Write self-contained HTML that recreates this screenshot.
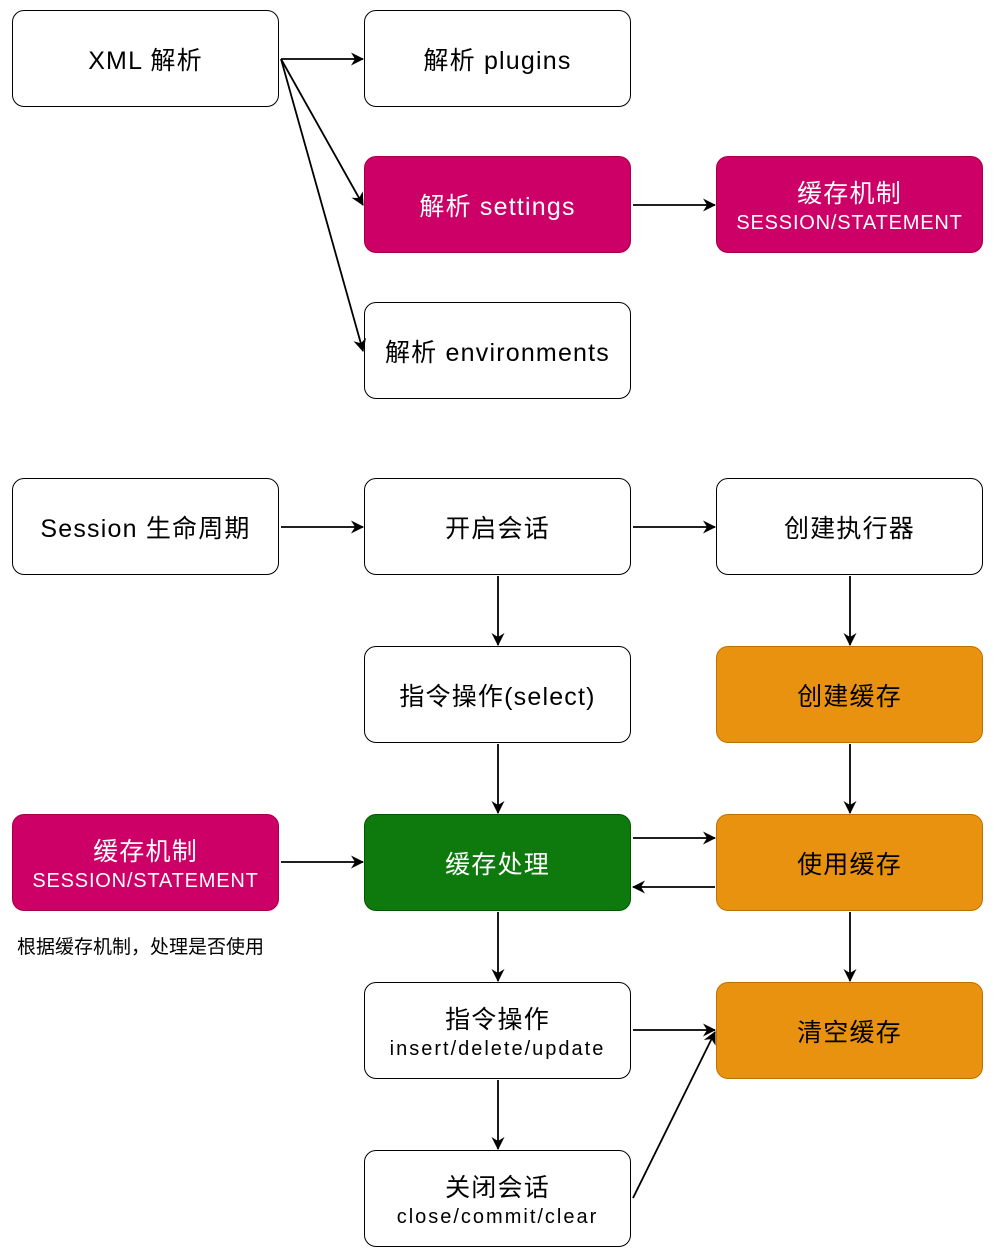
<!DOCTYPE html>
<html><head><meta charset="utf-8"><style>
body{margin:0;width:994px;height:1256px;background:#fff;position:relative;overflow:hidden;font-family:"Liberation Sans","Noto Sans CJK SC",sans-serif;}
.b{position:absolute;width:265px;border:1.8px solid #000;border-radius:12px;background:#fff;display:flex;flex-direction:column;align-items:center;justify-content:center;font-size:25px;color:#000;text-align:center;line-height:1.25;box-sizing:content-box;padding-top:6px;height:89px;letter-spacing:1.2px;font-weight:normal}
.b small{font-size:20px;letter-spacing:2px}
.b small.s{letter-spacing:0.8px}
.m{background:#cc0066;border-color:#a50040;color:#fff}
.g{background:#0e7a0d;border-color:#005700;color:#fff}
.o{background:#e8920f;border-color:#bd7000;color:#000}
svg{position:absolute;left:0;top:0}
</style></head><body>
<div class="b" style="left:12px;top:10px">XML 解析</div>
<div class="b" style="left:364px;top:10px">解析 plugins</div>
<div class="b m" style="left:364px;top:156px">解析 settings</div>
<div class="b m" style="left:716px;top:156px">缓存机制<small class="s">SESSION/STATEMENT</small></div>
<div class="b" style="left:364px;top:302px">解析 environments</div>
<div class="b" style="left:12px;top:478px">Session 生命周期</div>
<div class="b" style="left:364px;top:478px">开启会话</div>
<div class="b" style="left:716px;top:478px">创建执行器</div>
<div class="b" style="left:364px;top:646px">指令操作(select)</div>
<div class="b o" style="left:716px;top:646px">创建缓存</div>
<div class="b m" style="left:12px;top:814px">缓存机制<small class="s">SESSION/STATEMENT</small></div>
<div class="b g" style="left:364px;top:814px">缓存处理</div>
<div class="b o" style="left:716px;top:814px">使用缓存</div>
<div class="b" style="left:364px;top:982px">指令操作<small>insert/delete/update</small></div>
<div class="b o" style="left:716px;top:982px">清空缓存</div>
<div class="b" style="left:364px;top:1150px">关闭会话<small>close/commit/clear</small></div>
<div style="position:absolute;left:17px;top:932px;font-size:19px">根据缓存机制，处理是否使用</div>
<svg width="994" height="1256">
<defs><marker id="a" markerWidth="13" markerHeight="13" refX="12" refY="6.5" orient="auto" markerUnits="userSpaceOnUse"><path d="M0,0 L13,6.5 L0,13 L4,6.5 z" fill="#000"/></marker></defs>
<g stroke="#000" stroke-width="1.8" fill="none" marker-end="url(#a)">
<line x1="281" y1="59" x2="363" y2="59"/>
<line x1="281" y1="59" x2="363" y2="205"/>
<line x1="281" y1="59" x2="363" y2="351"/>
<line x1="633" y1="205" x2="715" y2="205"/>
<line x1="281" y1="527" x2="363" y2="527"/>
<line x1="633" y1="527" x2="715" y2="527"/>
<line x1="498" y1="576" x2="498" y2="645"/>
<line x1="850" y1="576" x2="850" y2="645"/>
<line x1="498" y1="744" x2="498" y2="813"/>
<line x1="850" y1="744" x2="850" y2="813"/>
<line x1="281" y1="862" x2="363" y2="862"/>
<line x1="633" y1="838" x2="715" y2="838"/>
<line x1="715" y1="887" x2="633" y2="887"/>
<line x1="498" y1="912" x2="498" y2="981"/>
<line x1="850" y1="912" x2="850" y2="981"/>
<line x1="633" y1="1030" x2="715" y2="1030"/>
<line x1="498" y1="1080" x2="498" y2="1149"/>
<line x1="633" y1="1198" x2="715" y2="1032"/>
</g></svg>
</body></html>
